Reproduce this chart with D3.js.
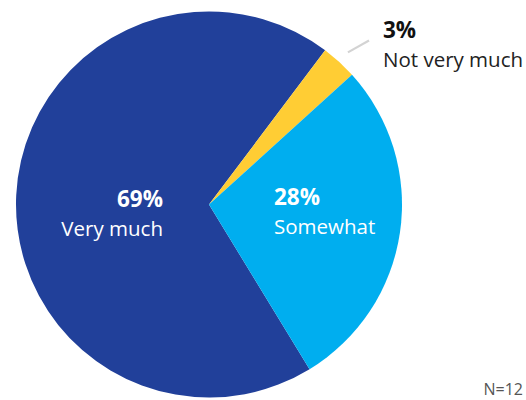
<!DOCTYPE html>
<html>
<head>
<meta charset="utf-8">
<script src="https://cdn.jsdelivr.net/npm/d3@7"></script>
<style>
  html, body { margin: 0; padding: 0; background: #ffffff; }
  svg { display: block; font-family: "Open Sans", "Noto Sans", sans-serif; }
</style>
</head>
<body>
<svg id="chart" width="526" height="400"></svg>
<script>
const categories = ["Very much", "Not very much", "Somewhat"];
const values = [69, 3, 28];
const labels = ["69%", "3%", "28%"];
const colors = ["#21409A", "#FFCD34", "#00AEEF"];
const note = "N=12";

const svg = d3.select("#chart");
const cx = 209, cy = 204.5, r = 193;
const g = svg.append("g").attr("transform", `translate(${cx},${cy})`);

const toRad = d => d * Math.PI / 180;
const pie = d3.pie().sort(null).value(d => d.v).startAngle(toRad(148.6)).endAngle(toRad(148.6 + 360));
const data = categories.map((c, i) => ({ c, v: values[i], l: labels[i], col: colors[i] }));
const arcs = pie(data);
const arc = d3.arc().innerRadius(0).outerRadius(r);

g.selectAll("path.slice").data(arcs).enter().append("path")
  .attr("class", "slice")
  .attr("d", arc)
  .attr("fill", d => d.data.col);

// label layout (relative to pie centre)
const layout = {
  "Very much":     { x: -46, y: 2,   anchor: "end",   pctFill: "#ffffff", txtFill: "#ffffff" },
  "Somewhat":      { x: 65,  y: 0,   anchor: "start", pctFill: "#ffffff", txtFill: "#ffffff" },
  "Not very much": { x: 174, y: -167, anchor: "start", pctFill: "#111111", txtFill: "#222222" }
};

arcs.forEach(a => {
  const L = layout[a.data.c];
  const t = g.append("text").attr("text-anchor", L.anchor);
  t.append("tspan").attr("x", L.x).attr("y", L.y)
    .attr("font-size", 22.5).attr("font-weight", 700).attr("fill", L.pctFill).text(a.data.l);
  t.append("tspan").attr("x", L.x).attr("y", L.y + 29)
    .attr("font-size", 20.5).attr("font-weight", 400).attr("fill", L.txtFill).text(a.data.c);
});

// leader line for small slice
const small = arcs.find(a => a.data.c === "Not very much");
const mid = (small.startAngle + small.endAngle) / 2;
const p0 = [Math.sin(mid) * (r + 13), -Math.cos(mid) * (r + 13)];
g.append("line")
  .attr("x1", p0[0]).attr("y1", p0[1])
  .attr("x2", 160).attr("y2", -164)
  .attr("stroke", "#d3d3d3").attr("stroke-width", 2.2);

svg.append("text")
  .attr("x", 523).attr("y", 395)
  .attr("text-anchor", "end")
  .attr("font-size", 16)
  .attr("fill", "#555555")
  .text(note);
</script>
</body>
</html>
